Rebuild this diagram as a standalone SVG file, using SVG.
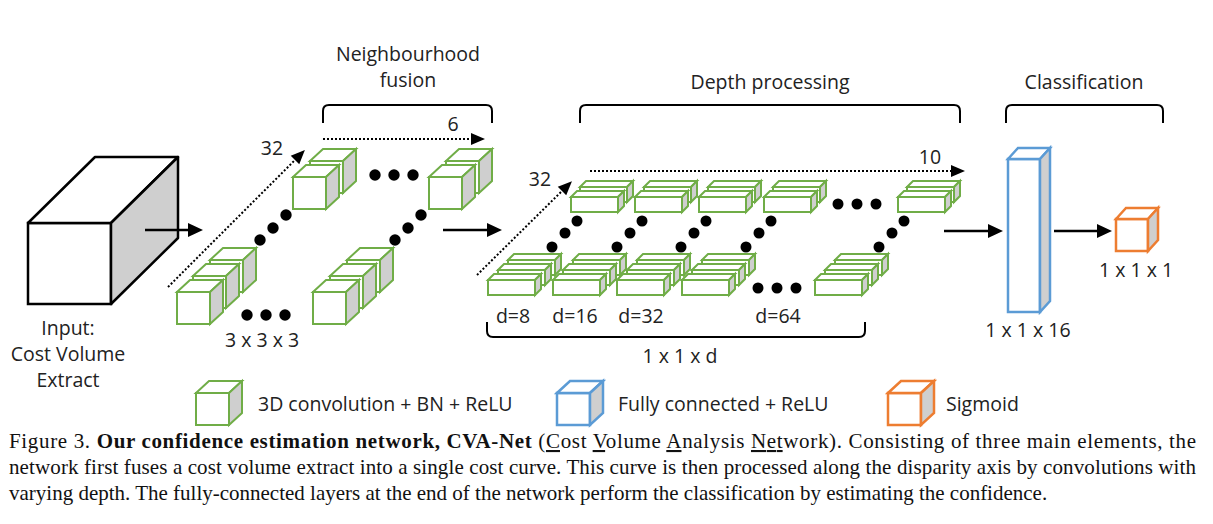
<svg xmlns="http://www.w3.org/2000/svg" xmlns:xlink="http://www.w3.org/1999/xlink" width="1213" height="524" viewBox="0 0 1213 524">
<style>
.t{font-family:"Open Sans","Noto Sans","Liberation Sans",sans-serif;font-size:19.5px;fill:#222}
.c{text-anchor:middle}
.cap{font-family:"Liberation Serif","Times New Roman",serif;font-size:21px;fill:#111}
.f{fill:#fff}
.s{fill:#cfcfcf}
.grn{stroke:#70AD47;stroke-width:2;stroke-linejoin:miter}
.blu{stroke:#5B9BD5;stroke-width:2.5}
.org{stroke:#ED7D31;stroke-width:2.5}
.blk{stroke:#000;stroke-width:2.5}
.br{fill:none;stroke:#000;stroke-width:2}
.dot{fill:#000}
.ar{stroke:#000;stroke-width:2.5;fill:none;marker-end:url(#ah)}
.da{stroke:#000;stroke-width:2;stroke-dasharray:2 2;fill:none;marker-end:url(#ah2)}
</style>
<defs>
<marker id="ah" markerUnits="userSpaceOnUse" markerWidth="16" markerHeight="14" refX="0" refY="7" orient="auto" overflow="visible">
<path d="M0,0 L15,7 L0,14 z" fill="#000"/>
</marker>
<marker id="ah2" markerUnits="userSpaceOnUse" markerWidth="16" markerHeight="14" refX="0" refY="6" orient="auto" overflow="visible">
<path d="M0,0 L14,6 L0,12 z" fill="#000"/>
</marker>
<g id="cube">
<path class="f" d="M0,0 h33 v32 h-33 z"/>
<path class="f" d="M0,0 l13,-12 h33 l-13,12 z"/>
<path class="s" d="M33,0 l13,-12 v32 l-13,12 z"/>
</g>
<g id="slab">
<path class="f" d="M0,0 h47 v15 h-47 z"/>
<path class="f" d="M0,0 l6,-6 h47 l-6,6 z"/>
<path class="s" d="M47,0 l6,-6 v15 l-6,6 z"/>
</g>
<g id="top2">
<use xlink:href="#slab" x="9" y="-10"/>
<use xlink:href="#slab" x="0" y="0"/>
</g>
<g id="bot3">
<use xlink:href="#slab" x="20" y="-20"/>
<use xlink:href="#slab" x="10" y="-10"/>
<use xlink:href="#slab" x="0" y="0"/>
</g>
<g id="ddots">
<circle cx="64" cy="-33" r="5.5"/>
<circle cx="77" cy="-47" r="5.5"/>
<circle cx="89" cy="-59" r="5.5"/>
</g>
</defs>
<rect width="1213" height="524" fill="#fff"/>

<g id="input">
<path class="f blk" d="M28,223 h83 v81 h-83 z"/>
<path class="f blk" d="M28,223 L95,157 H178 L111,223 z" stroke-linejoin="round"/>
<path class="s blk" d="M111,223 L178,157 V238 L111,304 z" stroke-linejoin="round"/>
<text class="t c" x="68" y="335">Input:</text>
<text class="t c" x="68" y="361">Cost Volume</text>
<text class="t c" x="68" y="387">Extract</text>
</g>

<g id="neighbourhood-fusion">
<text class="t c" x="408" y="61">Neighbourhood</text>
<text class="t c" x="408" y="87">fusion</text>
<path class="br" d="M323,123 V111 Q323,105 329,105 H486 Q492,105 492,111 V123"/>
<text class="t c" x="453" y="131">6</text>
<text class="t c" x="272" y="155">32</text>
<g class="grn">
<use xlink:href="#cube" x="310" y="161"/>
<use xlink:href="#cube" x="293" y="177"/>
<use xlink:href="#cube" x="446" y="161"/>
<use xlink:href="#cube" x="429" y="177"/>
<use xlink:href="#cube" x="210" y="260"/>
<use xlink:href="#cube" x="193" y="276"/>
<use xlink:href="#cube" x="177" y="292"/>
<use xlink:href="#cube" x="347" y="260"/>
<use xlink:href="#cube" x="330" y="276"/>
<use xlink:href="#cube" x="313" y="292"/>
</g>
<g class="dot">
<circle cx="375" cy="175" r="5.7"/><circle cx="394" cy="175" r="5.7"/><circle cx="413" cy="175" r="5.7"/>
<circle cx="247" cy="315" r="5.7"/><circle cx="266" cy="315" r="5.7"/><circle cx="285" cy="315" r="5.7"/>
<circle cx="260" cy="240" r="5.7"/><circle cx="273" cy="228" r="5.7"/><circle cx="286" cy="215" r="5.7"/>
<circle cx="395" cy="240" r="5.7"/><circle cx="408" cy="228" r="5.7"/><circle cx="421" cy="215" r="5.7"/>
</g>
<text class="t c" x="262" y="347">3 x 3 x 3</text>
</g>

<g id="depth-processing">
<text class="t c" x="770" y="89">Depth processing</text>
<path class="br" d="M580,123 V111 Q580,105 586,105 H954 Q960,105 960,111 V123"/>
<text class="t c" x="930" y="164">10</text>
<text class="t c" x="540" y="186">32</text>
<g class="grn">
<use xlink:href="#top2" x="571" y="197"/>
<use xlink:href="#top2" x="635" y="197"/>
<use xlink:href="#top2" x="699" y="197"/>
<use xlink:href="#top2" x="764" y="197"/>
<use xlink:href="#top2" x="898" y="197"/>
<use xlink:href="#bot3" x="488" y="280"/>
<use xlink:href="#bot3" x="553" y="280"/>
<use xlink:href="#bot3" x="617" y="280"/>
<use xlink:href="#bot3" x="682" y="280"/>
<use xlink:href="#bot3" x="815" y="280"/>
</g>
<g class="dot">
<use xlink:href="#ddots" x="488" y="280"/>
<use xlink:href="#ddots" x="553" y="280"/>
<use xlink:href="#ddots" x="617" y="280"/>
<use xlink:href="#ddots" x="682" y="280"/>
<use xlink:href="#ddots" x="815" y="280"/>
<circle cx="838" cy="204" r="5.5"/><circle cx="857" cy="204" r="5.5"/><circle cx="876" cy="204" r="5.5"/>
<circle cx="758" cy="288" r="5.5"/><circle cx="777" cy="288" r="5.5"/><circle cx="796" cy="288" r="5.5"/>
</g>
<text class="t c" x="513" y="323">d=8</text>
<text class="t c" x="575" y="323">d=16</text>
<text class="t c" x="641" y="323">d=32</text>
<text class="t c" x="778" y="323">d=64</text>
<path class="br" d="M487,322 V331 Q487,337 493,337 H859 Q865,337 865,331 V322"/>
<text class="t c" x="680" y="363">1 x 1 x d</text>
</g>

<g id="classification">
<text class="t c" x="1084" y="89">Classification</text>
<path class="br" d="M1006,123 V111 Q1006,105 1012,105 H1157 Q1163,105 1163,111 V123"/>
</g>

<g id="fully-connected">
<g class="blu">
<path class="f" d="M1008,159 h32 v153 h-32 z"/>
<path class="f" d="M1008,159 l10,-11 h32 l-10,11 z"/>
<path class="s" d="M1040,159 l10,-11 v153 l-10,11 z"/>
</g>
<text class="t c" x="1028" y="337">1 x 1 x 16</text>
</g>

<g id="sigmoid">
<g class="org">
<path class="f" d="M1116,219 h32 v32 h-32 z"/>
<path class="f" d="M1116,219 l10,-11 h32 l-10,11 z"/>
<path class="s" d="M1148,219 l10,-11 v32 l-10,11 z"/>
</g>
<text class="t c" x="1136" y="277">1 x 1 x 1</text>
</g>

<g id="connectors">
<path class="ar" d="M145,230 H188"/>
<path class="ar" d="M443,230 H487"/>
<path class="ar" d="M944,231 H988"/>
<path class="ar" d="M1054,231 H1097"/>
<path class="da" d="M323,139 H471"/>
<path class="da" d="M168,287 L295,160"/>
<path class="da" d="M590,171 H951"/>
<path class="da" d="M477,275 L562,191"/>
</g>

<g id="legend">
<use class="grn" xlink:href="#cube" x="196" y="393"/>
<text class="t" x="258" y="411">3D convolution + BN + ReLU</text>
<use class="blu" xlink:href="#cube" x="557" y="393"/>
<text class="t" x="618" y="411">Fully connected + ReLU</text>
<use class="org" xlink:href="#cube" x="888" y="393"/>
<text class="t" x="946" y="411">Sigmoid</text>
</g>

<g id="caption">
<text class="cap" x="9" y="448" textLength="1187" lengthAdjust="spacing">Figure 3. <tspan font-weight="bold">Our confidence estimation network, CVA-Net</tspan> (<tspan text-decoration="underline">C</tspan>ost <tspan text-decoration="underline">V</tspan>olume <tspan text-decoration="underline">A</tspan>nalysis <tspan text-decoration="underline">Net</tspan>work).  Consisting of three main elements, the</text>
<text class="cap" x="9" y="474" textLength="1187" lengthAdjust="spacing">network first fuses a cost volume extract into a single cost curve. This curve is then processed along the disparity axis by convolutions with</text>
<text class="cap" x="9" y="500">varying depth. The fully-connected layers at the end of the network perform the classification by estimating the confidence.</text>
</g>
</svg>
